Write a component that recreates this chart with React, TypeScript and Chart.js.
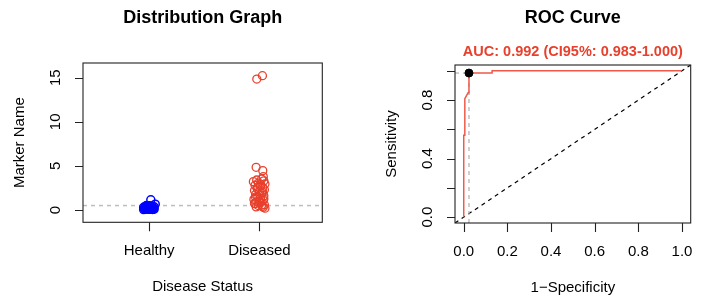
import React, { useEffect, useRef } from "react";
import { Chart, registerables } from "chart.js";
Chart.register(...registerables);

// ---------- Distribution graph data ----------
const groupLabels = ["Healthy", "Diseased"];
const groupPositions = [1, 2];
const healthyX = [0.95, 0.97, 0.99, 1.01, 1.03, 1.045, 0.955, 0.975, 0.995, 1.015, 1.035, 0.96, 0.98, 1.0, 1.02, 1.04, 0.95, 0.97, 0.99, 1.01, 1.03, 1.045, 0.965, 0.985, 1.005, 1.025, 0.96, 0.98, 1.0, 1.02, 1.04, 1.015, 1.055, 0.975, 1.0];
const healthyY = [0.05, 0.08, 0.1, 0.12, 0.06, 0.09, 0.15, 0.18, 0.2, 0.14, 0.17, 0.22, 0.25, 0.28, 0.24, 0.21, 0.3, 0.33, 0.35, 0.31, 0.27, 0.36, 0.4, 0.42, 0.38, 0.45, 0.11, 0.16, 0.07, 0.19, 0.13, 1.15, 0.65, 0.5, 0.48];
const diseasedX = [1.976, 2.027, 1.97, 2.03, 2.035, 1.945, 2.02, 2.04, 1.99, 2.05, 1.96, 2.01, 2.03, 1.98, 2.045, 1.955, 2.0, 2.02, 1.965, 2.04, 1.985, 2.01, 1.95, 2.035, 1.975, 2.015, 1.96, 2.045, 1.99, 2.025, 1.97, 2.05, 2.0, 1.955, 2.01, 1.985, 2.03, 1.965, 2.04, 1.995, 2.02, 1.975, 2.005, 2.035];
const diseasedY = [14.85, 15.23, 4.84, 4.46, 3.78, 3.21, 3.5, 3.3, 3.05, 2.95, 2.8, 2.7, 2.55, 2.4, 2.3, 2.2, 2.05, 1.9, 1.75, 1.6, 1.5, 1.35, 1.2, 1.1, 0.95, 0.85, 0.7, 0.6, 0.5, 0.4, 0.35, 0.2, 1.0, 0.75, 2.9, 2.6, 2.0, 1.45, 1.25, 0.9, 0.55, 3.4, 1.7, 0.3];
const cutoffValue = 0.5;
const distYTicks = [0, 5, 10, 15];
const distXMin = 0.4;
const distXMax = 2.57;
const distYMin = -1.4;
const distYMax = 16.67;

// ---------- ROC data ----------
const rocFpr = [0, 0, 0.005, 0.005, 0.02, 0.024, 0.024, 0.13, 0.13, 1.0];
const rocTpr = [0, 0.56, 0.56, 0.81, 0.85, 0.87, 0.985, 0.985, 1.0, 1.0];
const bestFpr = 0.024;
const bestTpr = 0.985;
const rocTicks = [0, 0.2, 0.4, 0.6, 0.8, 1.0];
const rocXTickLabels = ["0.0", "0.2", "0.4", "0.6", "0.8", "1.0"];
const rocYTickLabels = ["0.0", "", "0.4", "", "0.8", ""];
const rocMin = -0.04;
const rocMax = 1.04;
const aucText = "AUC: 0.992 (CI95%: 0.983-1.000)";

const FONT = '"Liberation Sans", Arial, Helvetica, sans-serif';
const RED = "#e8402c";
const BLUE = "#0000ff";

type FrameCfg = {
  title: string;
  xTitle: string;
  yTitle: string;
  xTicks: number[];
  xLabels: string[];
  yTicks: number[];
  yLabels: string[];
  subtitle?: string;
};

function framePlugin(cfg: FrameCfg) {
  return {
    id: "frame",
    afterDraw(chart: any) {
      const ctx = chart.ctx as CanvasRenderingContext2D;
      const a = chart.chartArea;
      const xs = chart.scales.x;
      const ys = chart.scales.y;
      const cx = (a.left + a.right) / 2;
      const cy = (a.top + a.bottom) / 2;
      ctx.save();
      ctx.strokeStyle = "#222";
      ctx.lineWidth = 1.1;
      ctx.strokeRect(a.left, a.top, a.right - a.left, a.bottom - a.top);
      ctx.beginPath();
      cfg.xTicks.forEach((v) => {
        const px = Math.round(xs.getPixelForValue(v)) + 0.5;
        ctx.moveTo(px, a.bottom);
        ctx.lineTo(px, a.bottom + 9);
      });
      cfg.yTicks.forEach((v) => {
        const py = Math.round(ys.getPixelForValue(v)) + 0.5;
        ctx.moveTo(a.left, py);
        ctx.lineTo(a.left - 8, py);
      });
      ctx.stroke();
      ctx.fillStyle = "#000";
      ctx.font = `15px ${FONT}`;
      ctx.textAlign = "center";
      ctx.textBaseline = "middle";
      cfg.xTicks.forEach((v, i) => {
        ctx.fillText(cfg.xLabels[i], xs.getPixelForValue(v), a.bottom + 29);
      });
      cfg.yTicks.forEach((v, i) => {
        if (!cfg.yLabels[i]) return;
        ctx.save();
        ctx.translate(a.left - 27, ys.getPixelForValue(v));
        ctx.rotate(-Math.PI / 2);
        ctx.fillText(cfg.yLabels[i], 0, 0);
        ctx.restore();
      });
      ctx.fillText(cfg.xTitle, cx, a.bottom + 65);
      ctx.save();
      ctx.translate(a.left - 63, cy);
      ctx.rotate(-Math.PI / 2);
      ctx.fillText(cfg.yTitle, 0, 0);
      ctx.restore();
      ctx.font = `bold 18px ${FONT}`;
      ctx.textBaseline = "alphabetic";
      ctx.fillText(cfg.title, cx, 23);
      if (cfg.subtitle) {
        ctx.fillStyle = RED;
        ctx.font = `bold 14.5px ${FONT}`;
        ctx.fillText(cfg.subtitle, cx, 56);
      }
      ctx.restore();
    },
  };
}

function DistributionChart() {
  const ref = useRef<HTMLCanvasElement | null>(null);
  useEffect(() => {
    if (!ref.current) return;
    const chart = new Chart(ref.current, {
      type: "scatter",
      data: {
        datasets: [
          {
            label: "cutoff",
            type: "line" as any,
            data: [
              { x: distXMin, y: cutoffValue },
              { x: distXMax, y: cutoffValue },
            ],
            borderColor: "#bdbdbd",
            borderWidth: 1.5,
            borderDash: [4, 4],
            pointRadius: 0,
            order: 5,
          },
          {
            label: groupLabels[0],
            data: healthyX.map((x, i) => ({ x, y: healthyY[i] })),
            borderColor: BLUE,
            backgroundColor: "rgba(0,0,0,0)",
            borderWidth: 1.5,
            pointRadius: 4,
            order: 1,
          },
          {
            label: groupLabels[1],
            data: diseasedX.map((x, i) => ({ x, y: diseasedY[i] })),
            borderColor: RED,
            backgroundColor: "rgba(0,0,0,0)",
            borderWidth: 1.3,
            pointRadius: 4,
            order: 1,
          },
        ],
      },
      options: {
        responsive: false,
        animation: false,
        layout: { padding: { left: 83, top: 63, right: 30.7, bottom: 77.7 } },
        scales: {
          x: { type: "linear", min: distXMin, max: distXMax, display: false },
          y: { type: "linear", min: distYMin, max: distYMax, display: false },
        },
        plugins: { legend: { display: false }, tooltip: { enabled: false } },
      },
      plugins: [
        framePlugin({
          title: "Distribution Graph",
          xTitle: "Disease Status",
          yTitle: "Marker Name",
          xTicks: groupPositions,
          xLabels: groupLabels,
          yTicks: distYTicks,
          yLabels: distYTicks.map(String),
        }),
      ],
    } as any);
    return () => chart.destroy();
  }, []);
  return <canvas ref={ref} width={353} height={300} style={{ position: "absolute", left: 0, top: 0, display: "block" }} />;
}

function RocChart() {
  const ref = useRef<HTMLCanvasElement | null>(null);
  useEffect(() => {
    if (!ref.current) return;
    const chart = new Chart(ref.current, {
      type: "scatter",
      data: {
        datasets: [
          {
            label: "best",
            data: [{ x: bestFpr, y: bestTpr }],
            backgroundColor: "#000",
            borderColor: "#000",
            pointRadius: 4,
            order: 0,
          },
          {
            label: "roc",
            data: rocFpr.map((x, i) => ({ x, y: rocTpr[i] })),
            showLine: true,
            borderColor: "#ef5a48",
            borderWidth: 1.5,
            pointRadius: 0,
            order: 2,
          },
          {
            label: "vline",
            data: [
              { x: bestFpr, y: rocMin },
              { x: bestFpr, y: bestTpr },
            ],
            showLine: true,
            borderColor: "#b0b0b0",
            borderWidth: 1.2,
            borderDash: [4, 4],
            pointRadius: 0,
            order: 3,
          },
          {
            label: "hline",
            data: [
              { x: rocMin, y: bestTpr },
              { x: bestFpr, y: bestTpr },
            ],
            showLine: true,
            borderColor: "#b0b0b0",
            borderWidth: 1.2,
            borderDash: [4, 4],
            pointRadius: 0,
            order: 3,
          },
          {
            label: "diag",
            data: [
              { x: rocMin, y: rocMin },
              { x: rocMax, y: rocMax },
            ],
            showLine: true,
            borderColor: "#000",
            borderWidth: 1.2,
            borderDash: [4, 4],
            pointRadius: 0,
            order: 4,
          },
        ],
      },
      options: {
        responsive: false,
        animation: false,
        layout: { padding: { left: 102, top: 65, right: 15.3, bottom: 77 } },
        scales: {
          x: { type: "linear", min: rocMin, max: rocMax, display: false },
          y: { type: "linear", min: rocMin, max: rocMax, display: false },
        },
        plugins: { legend: { display: false }, tooltip: { enabled: false } },
      },
      plugins: [
        framePlugin({
          title: "ROC Curve",
          xTitle: "1\u2212Specificity",
          yTitle: "Sensitivity",
          xTicks: rocTicks,
          xLabels: rocXTickLabels,
          yTicks: rocTicks,
          yLabels: rocYTickLabels,
          subtitle: aucText,
        }),
      ],
    } as any);
    return () => chart.destroy();
  }, []);
  return <canvas ref={ref} width={353} height={300} style={{ position: "absolute", left: 353, top: 0, display: "block" }} />;
}

export default function App() {
  return (
    <div style={{ position: "absolute", left: 0, top: 0, width: 706, height: 300, background: "#fff", overflow: "hidden" }}>
      <DistributionChart />
      <RocChart />
    </div>
  );
}
